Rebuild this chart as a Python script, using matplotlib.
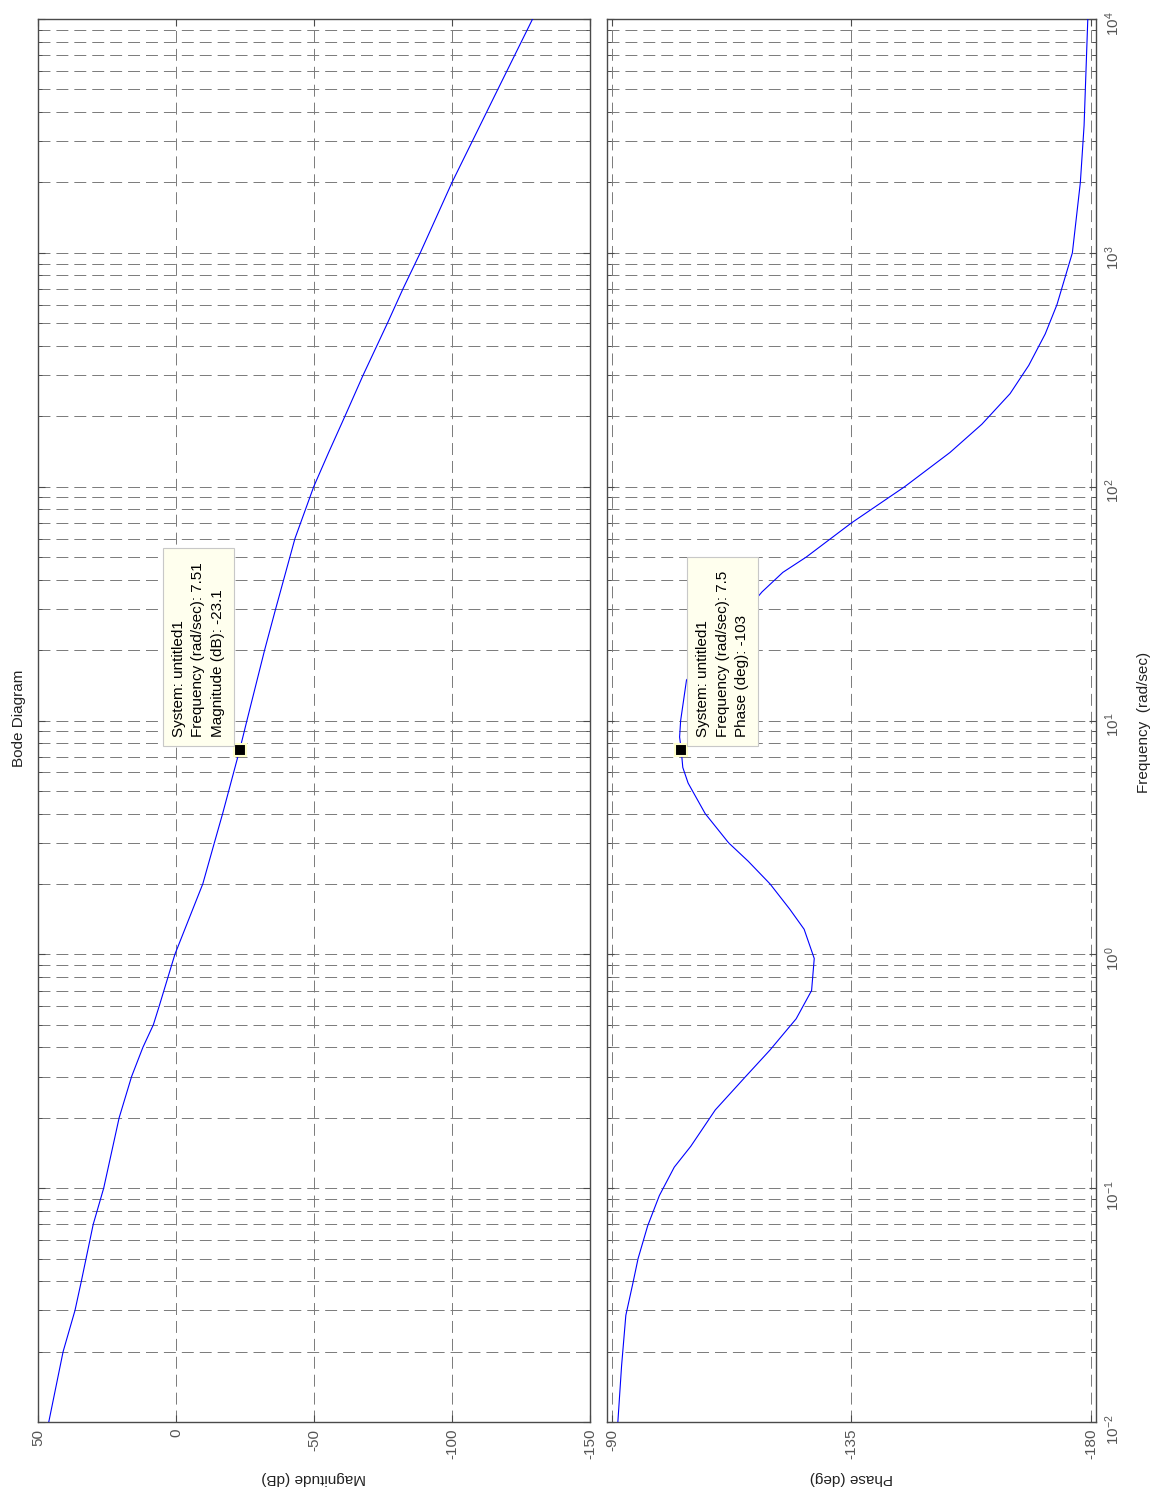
import matplotlib
matplotlib.use("Agg")
import matplotlib.pyplot as plt
import numpy as np

plt.rcParams['font.family'] = ['Liberation Sans', 'DejaVu Sans']
plt.rcParams['mathtext.fontset'] = 'custom'
plt.rcParams['mathtext.rm'] = 'Liberation Sans'
plt.rcParams['mathtext.it'] = 'Liberation Sans'
plt.rcParams['mathtext.default'] = 'regular'
plt.rcParams['lines.scale_dashes'] = False

# ---- data ----
freq_mag = [0.01, 0.02, 0.03, 0.04, 0.07, 0.1, 0.2, 0.3, 0.4, 0.5, 0.6, 1.0,
            2.0, 3.0, 4.0, 5.0, 7.51, 10, 20, 30, 60, 100, 140, 200, 300,
            500, 700, 1000, 2000, 5000, 10000]
mag_db = [46.1, 40.9, 36.6, 34.3, 30.0, 26.2, 20.6, 16.1, 12.0, 8.2, 6.1, 0.4,
          -9.7, -13.9, -16.9, -19.1, -23.1, -25.7, -32.1, -36.1, -43.1, -49.9,
          -55.3, -61.2, -67.8, -76.6, -82.2, -88.5, -100.0, -116.6, -129.2]

freq_ph = [0.01, 0.0174, 0.0286, 0.039, 0.05, 0.069, 0.093, 0.123, 0.151,
           0.216, 0.30, 0.39, 0.53, 0.70, 0.96, 1.28, 1.56, 2.0, 2.5, 3.0,
           4.0, 5.4, 6.3, 7.5, 8.5, 10, 14.9, 35.5, 43, 50, 70, 100, 140,
           185, 250, 330, 450, 600, 1000, 2000, 3500, 10000]
phase_deg = [-91.1, -91.8, -92.6, -93.9, -94.9, -96.7, -98.9, -101.7, -104.8,
             -109.4, -115.1, -119.7, -124.6, -127.5, -128.0, -126.1, -123.4,
             -119.7, -115.6, -111.9, -107.5, -104.3, -103.3, -103.0, -102.7,
             -102.9, -104.0, -118.2, -122.1, -126.5, -135.0, -145.0, -153.5,
             -159.5, -164.8, -168.3, -171.4, -173.6, -176.5, -178.0, -178.7,
             -179.4]

mag_ticks = [50, 0, -50, -100, -150]
mag_ticklabels = ['50', '0', '-50', '-100', '-150']
phase_ticks = [-90, -135, -180]
phase_ticklabels = ['-90', '-135', '-180']
freq_ticks = [1e-2, 1e-1, 1e0, 1e1, 1e2, 1e3, 1e4]
freq_ticklabels = [r'$10^{-2}$', r'$10^{-1}$', r'$10^{0}$', r'$10^{1}$',
                   r'$10^{2}$', r'$10^{3}$', r'$10^{4}$']

tip_mag = (7.51, -23.1)
tip_phase = (7.5, -103)
tip_mag_text = "System: untitled1\nFrequency (rad/sec): 7.51 \nMagnitude (dB): -23.1"
tip_phase_text = "System: untitled1\nFrequency (rad/sec): 7.5 \nPhase (deg): -103"

# ---- figure ----
W, H = 1154, 1491
fig = plt.figure(figsize=(W / 100, H / 100), dpi=100)
fig.patch.set_facecolor('white')

bot = 1 - 1422 / H
hgt = 1403 / H
ax1 = fig.add_axes([38 / W, bot, 552 / W, hgt])
ax2 = fig.add_axes([607 / W, bot, 489 / W, hgt])

grid_kw = dict(color='#7a7a7a', linewidth=0.7, linestyle=(0, (8.6, 4.3)))
tick_col = '#555555'
spine_col = '#4a4a4a'

for ax in (ax1, ax2):
    ax.set_yscale('log')
    ax.set_ylim(1e-2, 1e4)
    ax.grid(True, which='major', axis='both', **grid_kw)
    ax.grid(True, which='minor', axis='y', **grid_kw)
    ax.set_axisbelow(True)
    for s in ax.spines.values():
        s.set_color(spine_col)
        s.set_linewidth(1.0)
    ax.tick_params(which='both', direction='in', top=True, right=True,
                   left=True, bottom=True, colors=spine_col,
                   labelcolor=tick_col, labelsize=11)
    ax.tick_params(which='major', length=5, width=0.8)
    ax.tick_params(which='minor', length=3, width=0.6)
    ax.tick_params(axis='x', labelrotation=90, pad=5)
    ax.yaxis.set_minor_formatter(matplotlib.ticker.NullFormatter())
    ax.yaxis.set_minor_locator(matplotlib.ticker.LogLocator(base=10, subs=np.arange(2, 10), numticks=50))

# magnitude
ax1.plot(mag_db, freq_mag, color='#0000ff', linewidth=0.8, zorder=3)
ax1.set_xlim(50, -150)
ax1.set_xticks(mag_ticks)
ax1.set_xticklabels(mag_ticklabels)
ax1.set_yticks(freq_ticks)
ax1.tick_params(axis='y', labelleft=False, labelright=False)

# phase
ax2.plot(phase_deg, freq_ph, color='#0000ff', linewidth=0.8, zorder=3)
ax2.set_xlim(-89.06, -180.94)
ax2.set_xticks(phase_ticks)
ax2.set_xticklabels(phase_ticklabels)
ax2.set_yticks(freq_ticks)
ax2.set_yticklabels(freq_ticklabels)
ax2.tick_params(axis='y', which='major', labelleft=False, labelright=True,
                labelrotation=90, pad=5)

# datatips
tip_box = dict(boxstyle='square,pad=0.6', fc='#ffffee', ec='#c8c8c8', lw=0.8)
ax1.plot([tip_mag[1]], [tip_mag[0]], 's', ms=8.5, mfc='black', mec='#ffffcc',
         mew=1.5, zorder=6, clip_on=False)
ax1.annotate(tip_mag_text, xy=(tip_mag[1], tip_mag[0]), xytext=(-10.8, 9.3),
             textcoords='offset points', ha='right', va='bottom', rotation=90,
             multialignment='left', fontsize=11, color='black',
             linespacing=1.5, bbox=tip_box, zorder=7)
ax2.plot([tip_phase[1]], [tip_phase[0]], 's', ms=8.5, mfc='black', mec='#ffffcc',
         mew=1.5, zorder=6, clip_on=False)
ax2.annotate(tip_phase_text, xy=(tip_phase[1], tip_phase[0]), xytext=(10.8, 9.3),
             textcoords='offset points', ha='left', va='bottom', rotation=90,
             multialignment='left', fontsize=11, color='black',
             linespacing=1.5, bbox=tip_box, zorder=7)

# labels
lab_col = '#222222'
fig.text(314 / W, 1 - 1478 / H, 'Magnitude (dB)', rotation=180, ha='center',
         va='center', fontsize=11, color=lab_col)
fig.text(851.5 / W, 1 - 1478 / H, 'Phase (deg)', rotation=180, ha='center',
         va='center', fontsize=11, color=lab_col)
fig.text(1144 / W, 1 - 722 / H, 'Frequency  (rad/sec)', rotation=90,
         ha='center', va='center', fontsize=11, color=lab_col)
fig.text(19 / W, 1 - 718 / H, 'Bode Diagram', rotation=90, ha='center',
         va='center', fontsize=11, color=lab_col)

fig.savefig('out.png', dpi=100, facecolor='white')
